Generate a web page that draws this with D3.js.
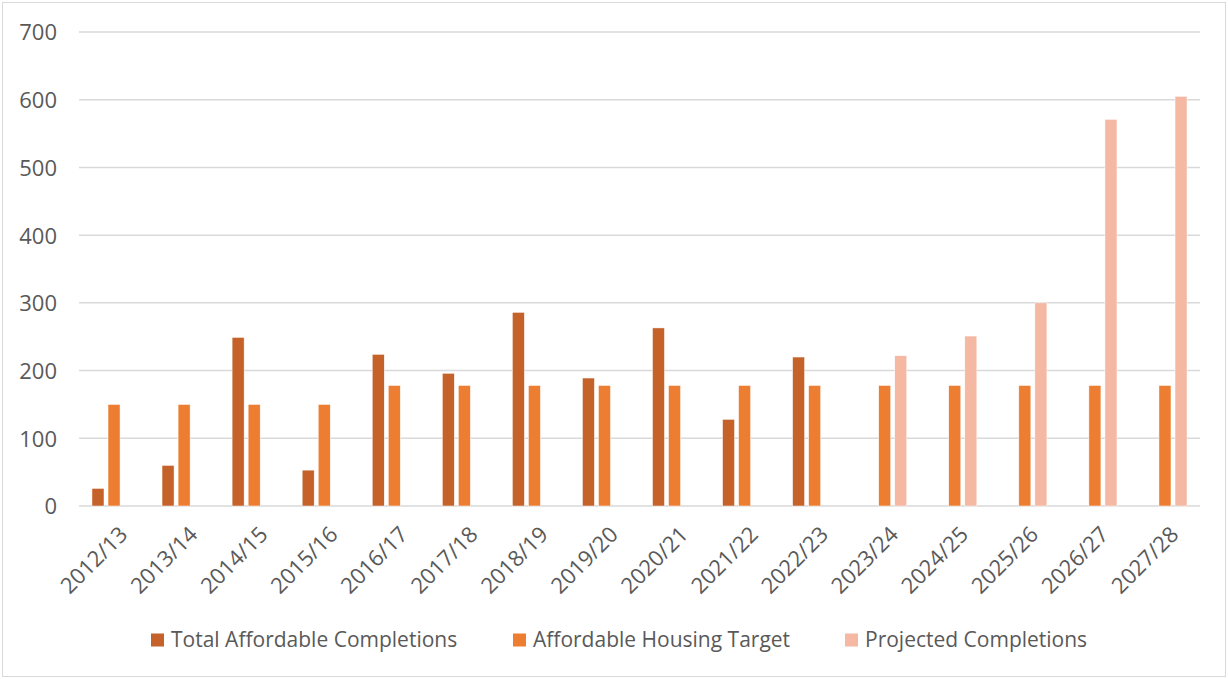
<!DOCTYPE html>
<html>
<head>
<meta charset="utf-8">
<script src="https://cdn.jsdelivr.net/npm/d3@7"></script>
<style>
  body { margin: 0; background: #fff; }
  text { font-family: "Open Sans", "Noto Sans", sans-serif; fill: #595959; }
</style>
</head>
<body>
<div id="chart"></div>
<script>
const categories = ["2012/13", "2013/14", "2014/15", "2015/16", "2016/17", "2017/18", "2018/19", "2019/20",
  "2020/21", "2021/22", "2022/23", "2023/24", "2024/25", "2025/26", "2026/27", "2027/28"];
const totalCompletions = [26, 60, 249, 53, 224, 196, 286, 189, 263, 128, 220, null, null, null, null, null];
const housingTarget = [150, 150, 150, 150, 178, 178, 178, 178, 178, 178, 178, 178, 178, 178, 178, 178];
const projectedCompletions = [null, null, null, null, null, null, null, null, null, null, null, 222, 251, 300, 571, 605];
const seriesNames = ["Total Affordable Completions", "Affordable Housing Target", "Projected Completions"];
const seriesColors = ["#C4622A", "#ED7D31", "#F4B8A3"];
const yTicks = [0, 100, 200, 300, 400, 500, 600, 700];

const width = 1228;
const height = 679;
const margin = { top: 32, right: 28, bottom: 173, left: 79 };
const plotW = width - margin.left - margin.right;
const plotH = height - margin.top - margin.bottom;

const svg = d3.select("#chart").append("svg").attr("width", width).attr("height", height);

// chart border
svg.append("rect")
  .attr("x", 2.5).attr("y", 2.5)
  .attr("width", width - 5).attr("height", height - 5)
  .attr("fill", "#fff").attr("stroke", "#D9D9D9");

const g = svg.append("g").attr("transform", `translate(${margin.left},${margin.top})`);

const x = d3.scaleBand().domain(categories).range([0, plotW]).paddingInner(0.37).paddingOuter(0.185);
const xs = d3.scaleBand().domain(d3.range(3)).range([0, x.bandwidth()]).paddingInner(0.25);
const y = d3.scaleLinear().domain([0, 700]).range([plotH, 0]);

// gridlines
g.selectAll(".grid")
  .data(yTicks)
  .enter()
  .append("line")
  .attr("x1", 0).attr("x2", plotW)
  .attr("y1", (d) => y(d)).attr("y2", (d) => y(d))
  .attr("stroke", "#D9D9D9").attr("stroke-width", 1.5);

// y labels
const yAxis = d3.axisLeft(y).tickValues(yTicks).tickSize(0).tickPadding(22);
const yg = g.append("g").call(yAxis);
yg.select(".domain").remove();
yg.selectAll("text").style("font-size", "22px").attr("fill", "#595959").attr("dy", "0.36em");

// bars
const allSeries = [totalCompletions, housingTarget, projectedCompletions];
allSeries.forEach((vals, si) => {
  g.append("g")
    .selectAll("rect")
    .data(categories.map((c, i) => ({ c, v: vals[i] })).filter((d) => d.v != null))
    .enter()
    .append("rect")
    .attr("x", (d) => x(d.c) + xs(si))
    .attr("y", (d) => y(d.v))
    .attr("width", xs.bandwidth())
    .attr("height", (d) => plotH - y(d.v))
    .attr("fill", seriesColors[si])
    .attr("stroke", "#fff")
    .attr("stroke-width", 0.5);
});

// x labels
const xg = g.append("g").attr("transform", `translate(0,${plotH})`);
xg.selectAll("text")
  .data(categories)
  .enter()
  .append("text")
  .attr("transform", (d) => `translate(${x(d) + x.bandwidth() / 2 + 4},${19}) rotate(-45)`)
  .attr("text-anchor", "end")
  .attr("dy", "0.7em")
  .style("font-size", "22px")
  .text((d) => d);

// legend
const legendX = [151, 513, 845];
const legend = svg.append("g").attr("transform", `translate(0,640)`);
seriesNames.forEach((name, i) => {
  legend.append("rect")
    .attr("x", legendX[i]).attr("y", -6.5)
    .attr("width", 13).attr("height", 13)
    .attr("fill", seriesColors[i]);
  legend.append("text")
    .attr("x", legendX[i] + 20).attr("y", 0)
    .attr("dy", "0.35em")
    .style("font-size", "21px")
    .text(name);
});
</script>
</body>
</html>
